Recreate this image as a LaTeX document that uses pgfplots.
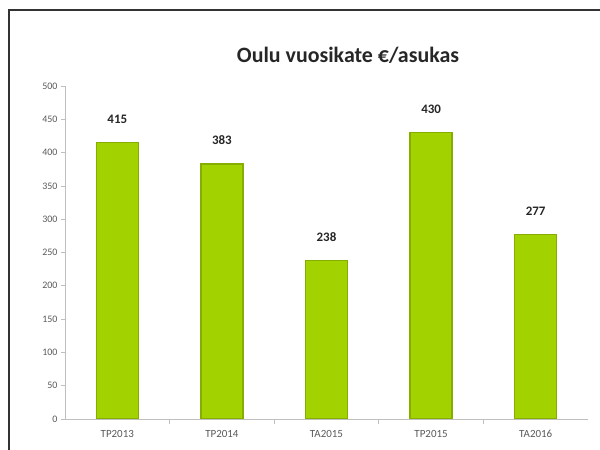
\documentclass[border=0pt]{standalone}
\usepackage{fontspec}
\setmainfont{Carlito}
\usepackage{pgfplots}
\pgfplotsset{compat=1.18}
\definecolor{barfill}{HTML}{A2D300}
\definecolor{baredge}{HTML}{86AE00}
\definecolor{ticktxt}{HTML}{595959}
\definecolor{axisgray}{HTML}{BFBFBF}

\begin{document}
\begin{tikzpicture}
% page area, 1px = 1bp
\useasboundingbox (0,0) rectangle (600bp,450bp);
\draw[line width=1.2bp, black!80] (9bp,0) -- (9bp,440bp) -- (600bp,440bp);
\node[font=\fontsize{22}{26}\selectfont\bfseries, text=black!85] at (348bp,395bp) {Oulu vuosikate €/asukas};
\begin{axis}[
    at={(65bp,31bp)}, anchor=south west,
    scale only axis, width=523bp, height=333bp,
    ybar, bar width=42bp,
    xmin=-0.5, xmax=4.5, ymin=0, ymax=500,
    xtick={0,...,4}, xticklabels={TP2013,TP2014,TA2015,TP2015,TA2016},
    minor xtick={0.5,1.5,2.5,3.5},
    ytick={0,50,...,500},
    axis x line*=bottom, axis y line*=left,
    axis line style={draw=axisgray, line width=0.8bp, -},
    tick style={draw=axisgray, line width=0.8bp},
    tick align=outside,
    major tick length=4bp, minor tick length=5bp,
    x tick style={draw=none},
    minor x tick style={draw=axisgray},
    ticklabel style={font=\fontsize{10}{12}\selectfont, text=ticktxt},
    x tick label style={font=\fontsize{11}{13}\selectfont, yshift=-4bp},
    /pgf/number format/assume math mode=true,
    nodes near coords,
    nodes near coords style={font=\fontsize{13}{15}\selectfont\bfseries, text=black!85, yshift=15bp},
]
\addplot[fill=barfill, draw=baredge, line width=1.4bp] coordinates {(0,415) (1,383) (2,238) (3,430) (4,277)};
\end{axis}
\end{tikzpicture}
\end{document}
